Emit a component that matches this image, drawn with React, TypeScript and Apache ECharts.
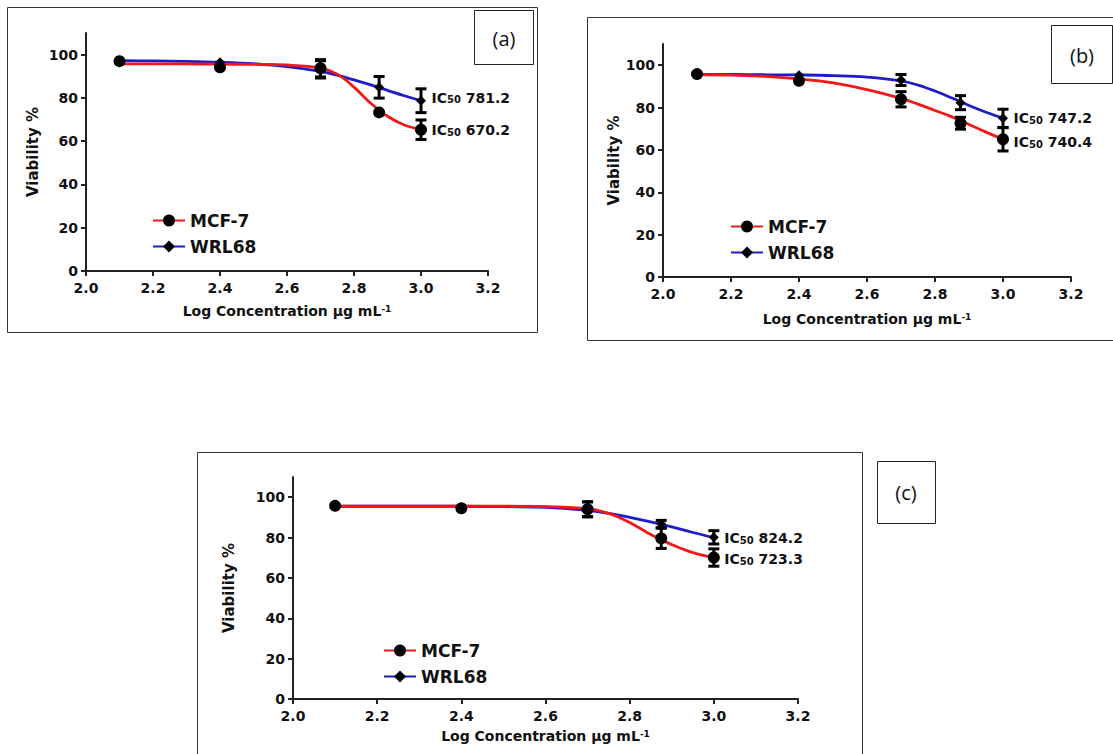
import React, { useEffect, useRef } from 'react';
import * as echarts from 'echarts';

// ---------- data ----------
const TICK_X = [2.0, 2.2, 2.4, 2.6, 2.8, 3.0, 3.2];
const TICK_Y = [0, 20, 40, 60, 80, 100];
const LOG_CONC = [2.1, 2.4, 2.7, 2.875, 3.0];
const FIT_X = [2.1, 2.2, 2.3, 2.4, 2.5, 2.6, 2.7, 2.75, 2.8, 2.85, 2.9, 2.95, 3.0];
const SERIES_NAMES = ['MCF-7', 'WRL68'];

// Panel (a)
const A_MCF7 = [97, 94.2, 93.7, 73.3, 65.3];
const A_MCF7_SD = [0, 0, 4, 0, 4.5];
const A_WRL68 = [97.2, 96.5, 93.2, 84.9, 78.7];
const A_WRL68_SD = [0, 0, 4, 5, 5.5];
const A_MCF7_FIT = [95.7, 95.7, 95.7, 95.6, 95.5, 95.2, 93.8, 91, 85, 77.5, 71.5, 67.5, 65.5];
const A_WRL68_FIT = [97.2, 97.1, 96.9, 96.5, 95.8, 94.5, 92.3, 90.5, 88.3, 86, 83.5, 81, 78.7];
const A_IC50 = ['670.2', '781.2'];
const A_IC50_Y = [65, 80];

// Panel (b)
const B_MCF7 = [95.8, 92.6, 83.9, 72.6, 65];
const B_MCF7_SD = [0, 0, 3.6, 2.8, 5.5];
const B_WRL68 = [95.8, 95.3, 93, 82.3, 74.9];
const B_WRL68_SD = [0, 0, 2.6, 3.3, 4.3];
const B_MCF7_FIT = [95.6, 95.3, 94.7, 93.5, 91.6, 88.5, 84.3, 81.6, 78.6, 75.6, 72, 68.4, 65];
const B_WRL68_FIT = [95.6, 95.6, 95.5, 95.4, 95.1, 94.4, 92.6, 90.6, 87.8, 84.5, 81, 77.8, 75];
const B_IC50 = ['740.4', '747.2'];
const B_IC50_Y = [63.7, 75];

// Panel (c)
const C_MCF7 = [95.7, 94.5, 94, 79.6, 70.1];
const C_MCF7_SD = [0, 0, 3.7, 5, 4.3];
const C_WRL68 = [95.7, 94.8, 94, 86.7, 80.1];
const C_WRL68_SD = [0, 0, 3.7, 1.8, 3.3];
const C_MCF7_FIT = [95.5, 95.5, 95.5, 95.5, 95.5, 95.3, 94.3, 92, 87.5, 81.5, 76.5, 72.5, 70];
const C_WRL68_FIT = [95.5, 95.5, 95.5, 95.5, 95.3, 95, 93.5, 92, 90, 87.8, 85.3, 82.5, 80];
const C_IC50 = ['723.3', '824.2'];
const C_IC50_Y = [69.3, 79.7];

const PANEL_LABELS = ['(a)', '(b)', '(c)'];

// ---------- styles ----------
const RED = '#f01818';
const BLUE = '#1c1cc8';
const INK = '#111';
const FONT = '"DejaVu Sans", "Liberation Sans", Arial, sans-serif';

type Panel = {
  mcf: number[]; mcfSd: number[]; wrl: number[]; wrlSd: number[];
  mcfFit: number[]; wrlFit: number[]; ic50: string[]; ic50Y: number[];
  grid: { left: number; top: number; width: number; height: number };
  yNameGap: number; xNameGap: number; legend: { left: number; top: number };
};

const PANELS: Panel[] = [
  {
    mcf: A_MCF7, mcfSd: A_MCF7_SD, wrl: A_WRL68, wrlSd: A_WRL68_SD,
    mcfFit: A_MCF7_FIT, wrlFit: A_WRL68_FIT, ic50: A_IC50, ic50Y: A_IC50_Y,
    grid: { left: 86, top: 33, width: 402, height: 238 },
    yNameGap: 46, xNameGap: 33, legend: { left: 147, top: 207 },
  },
  {
    mcf: B_MCF7, mcfSd: B_MCF7_SD, wrl: B_WRL68, wrlSd: B_WRL68_SD,
    mcfFit: B_MCF7_FIT, wrlFit: B_WRL68_FIT, ic50: B_IC50, ic50Y: B_IC50_Y,
    grid: { left: 663, top: 44, width: 408, height: 233 },
    yNameGap: 42, xNameGap: 35, legend: { left: 725, top: 213 },
  },
  {
    mcf: C_MCF7, mcfSd: C_MCF7_SD, wrl: C_WRL68, wrlSd: C_WRL68_SD,
    mcfFit: C_MCF7_FIT, wrlFit: C_WRL68_FIT, ic50: C_IC50, ic50Y: C_IC50_Y,
    grid: { left: 293, top: 477, width: 505, height: 222 },
    yNameGap: 57, xNameGap: 30, legend: { left: 378, top: 637 },
  },
];

function errorData(sd: number[], vals: number[]) {
  const out: number[][] = [];
  LOG_CONC.forEach((x, i) => {
    if (sd[i] > 0) out.push([x, vals[i] - sd[i], vals[i] + sd[i]]);
  });
  return out;
}

function renderErr(params: any, api: any) {
  const x = api.value(0);
  const lo = api.value(1);
  const hi = api.value(2);
  const t = api.coord([x, hi]);
  const b = api.coord([x, lo]);
  const w = 5.5;
  const style = { stroke: '#000', lineWidth: 3 };
  return {
    type: 'group',
    children: [
      { type: 'line', shape: { x1: t[0], y1: t[1], x2: b[0], y2: b[1] }, style },
      { type: 'line', shape: { x1: t[0] - w, y1: t[1], x2: t[0] + w, y2: t[1] }, style },
      { type: 'line', shape: { x1: b[0] - w, y1: b[1], x2: b[0] + w, y2: b[1] }, style },
    ],
  };
}

function buildOption() {
  const grids: any[] = [];
  const xAxes: any[] = [];
  const yAxes: any[] = [];
  const series: any[] = [];
  const legends: any[] = [];

  PANELS.forEach((p, i) => {
    grids.push({ ...p.grid, containLabel: false });
    xAxes.push({
      type: 'value', gridIndex: i, min: 2.0, max: 3.2, interval: 0.2,
      axisLine: { show: true, lineStyle: { color: '#222', width: 2 } },
      axisTick: { show: true, length: 5, lineStyle: { color: '#222', width: 2 }, customValues: TICK_X },
      axisLabel: {
        customValues: TICK_X, formatter: (v: number) => v.toFixed(1),
        fontFamily: FONT, fontWeight: 'bold', fontSize: 14, color: INK, margin: 10,
      },
      splitLine: { show: false },
      name: '{t|Log Concentration μg mL}{s|-1}',
      nameLocation: 'middle', nameGap: p.xNameGap,
      nameTextStyle: {
        rich: {
          t: { fontFamily: FONT, fontWeight: 'bold', fontSize: 14, color: INK },
          s: { fontFamily: FONT, fontWeight: 'bold', fontSize: 9, color: INK, verticalAlign: 'top' },
        },
      },
    });
    yAxes.push({
      type: 'value', gridIndex: i, min: 0, max: 110, interval: 20,
      axisLine: { show: true, lineStyle: { color: '#222', width: 2 } },
      axisTick: { show: true, length: 5, lineStyle: { color: '#222', width: 2 }, customValues: TICK_Y },
      axisLabel: {
        customValues: TICK_Y, fontFamily: FONT, fontWeight: 'bold', fontSize: 14,
        color: INK, margin: 8,
      },
      splitLine: { show: false },
      name: 'Viability %', nameLocation: 'middle', nameRotate: 90, nameGap: p.yNameGap,
      nameTextStyle: { fontFamily: FONT, fontWeight: 'bold', fontSize: 15, color: INK },
    });

    series.push({
      type: 'line', name: SERIES_NAMES[1], xAxisIndex: i, yAxisIndex: i,
      data: FIT_X.map((x, k) => [x, p.wrlFit[k]]),
      smooth: 0.4, showSymbol: false, symbol: 'diamond', symbolSize: 9,
      color: BLUE, lineStyle: { color: BLUE, width: 2.8 }, itemStyle: { color: '#000', opacity: 1 },
      z: 2,
    });
    series.push({
      type: 'line', name: SERIES_NAMES[0], xAxisIndex: i, yAxisIndex: i,
      data: FIT_X.map((x, k) => [x, p.mcfFit[k]]),
      smooth: 0.4, showSymbol: false, symbol: 'circle', symbolSize: 11,
      color: RED, lineStyle: { color: RED, width: 2.8 }, itemStyle: { color: '#000', opacity: 1 },
      z: 3,
    });
    series.push({
      type: 'custom', name: 'err-' + i, xAxisIndex: i, yAxisIndex: i,
      data: [...errorData(p.mcfSd, p.mcf), ...errorData(p.wrlSd, p.wrl)],
      encode: { x: 0, y: [1, 2] }, renderItem: renderErr, z: 4,
    });
    series.push({
      type: 'scatter', name: 'wrl-pts-' + i, xAxisIndex: i, yAxisIndex: i,
      data: LOG_CONC.map((x, k) => [x, p.wrl[k]]),
      symbol: 'diamond', symbolSize: 10, itemStyle: { color: '#000', opacity: 1 }, z: 5,
    });
    series.push({
      type: 'scatter', name: 'mcf-pts-' + i, xAxisIndex: i, yAxisIndex: i,
      data: LOG_CONC.map((x, k) => [x, p.mcf[k]]),
      symbol: 'circle', symbolSize: 12, itemStyle: { color: '#000', opacity: 1 }, z: 5,
    });
    series.push({
      type: 'scatter', name: 'ic50-' + i, xAxisIndex: i, yAxisIndex: i,
      data: p.ic50.map((v, k) => ({
        value: [LOG_CONC[LOG_CONC.length - 1], p.ic50Y[k]],
        label: {
          show: true, position: 'right', distance: 10, color: INK, opacity: 1,
          formatter: '{a|IC}{b|50}{a| ' + v + '}',
          rich: {
            a: { fontFamily: FONT, fontWeight: 'bold', fontSize: 14, color: INK },
            b: { fontFamily: FONT, fontWeight: 'bold', fontSize: 10, color: INK, verticalAlign: 'bottom' },
          },
        },
      })),
      symbolSize: 1, itemStyle: { color: 'rgba(0,0,0,0)', opacity: 1 }, silent: true, z: 6,
    });

    legends.push({
      data: SERIES_NAMES, orient: 'vertical', left: p.legend.left, top: p.legend.top,
      itemWidth: 32, itemHeight: 15, itemGap: 9, selectedMode: false,
      textStyle: { fontFamily: FONT, fontWeight: 'bold', fontSize: 17, color: INK },
    });
  });

  const boxStyle = { fill: 'none', stroke: '#333', lineWidth: 1 };
  const graphic: any[] = [
    { type: 'rect', shape: { x: 7.5, y: 7.5, width: 530, height: 325 }, style: boxStyle, silent: true },
    { type: 'rect', shape: { x: 587.5, y: 17.5, width: 540, height: 323 }, style: boxStyle, silent: true },
    { type: 'rect', shape: { x: 197.5, y: 452.5, width: 665, height: 320 }, style: boxStyle, silent: true },
    { type: 'rect', shape: { x: 474.5, y: 10.5, width: 59, height: 54 }, style: { fill: '#fff', stroke: '#222', lineWidth: 1 }, silent: true },
    { type: 'rect', shape: { x: 1051.5, y: 25.5, width: 61, height: 58 }, style: { fill: '#fff', stroke: '#222', lineWidth: 1 }, silent: true },
    { type: 'rect', shape: { x: 877.5, y: 461.5, width: 58, height: 62 }, style: { fill: '#fff', stroke: '#222', lineWidth: 1 }, silent: true },
  ];
  const labelPos = [[504, 38], [1082, 55], [906, 492]];
  PANEL_LABELS.forEach((t, i) => {
    graphic.push({
      type: 'text', x: labelPos[i][0], y: labelPos[i][1], silent: true,
      style: { text: t, fontFamily: '"Open Sans", "Noto Sans", sans-serif', fontSize: 20, fill: '#111', align: 'center', verticalAlign: 'middle' },
    });
  });

  return {
    animation: false,
    backgroundColor: '#ffffff',
    textStyle: { fontFamily: FONT },
    grid: grids, xAxis: xAxes, yAxis: yAxes, series, legend: legends, graphic,
  };
}

export default function App() {
  const ref = useRef<HTMLDivElement>(null);
  useEffect(() => {
    if (!ref.current) return;
    const chart = echarts.init(ref.current, null, { renderer: 'svg' });
    chart.setOption(buildOption() as any);
    return () => chart.dispose();
  }, []);
  return (
    <div
      ref={ref}
      style={{ position: 'absolute', left: 0, top: 0, width: 1113, height: 754, background: '#fff' }}
    />
  );
}
